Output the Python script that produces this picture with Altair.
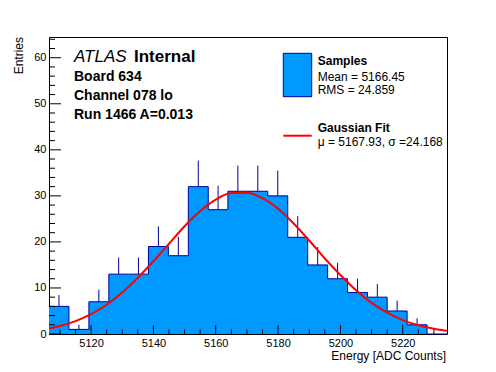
import altair as alt
import pandas as pd

# ---- data ----
bin_edges = [5106.5, 5112.9, 5119.3, 5125.7, 5132.0, 5138.4, 5144.8, 5151.2,
             5157.6, 5163.9, 5170.3, 5176.7, 5183.1, 5189.5, 5195.9, 5202.3,
             5208.7, 5215.0, 5221.4, 5227.8, 5234.2]
counts = [6, 1, 7, 13, 13, 19, 17, 32, 27, 31, 31, 30, 21, 15, 12, 9, 8, 5, 2, 0]

fit_x = [5106.5, 5110, 5115, 5120, 5125, 5130, 5135, 5140, 5145, 5150, 5155,
         5160, 5165, 5170, 5175, 5180, 5185, 5190, 5195, 5200, 5205, 5210,
         5215, 5220, 5225, 5230, 5234.2]
fit_y = [1.22, 1.74, 2.80, 4.31, 6.36, 9.00, 12.2, 15.8, 19.6, 23.4, 26.7,
         29.2, 30.6, 30.7, 29.5, 27.2, 24.0, 20.3, 16.4, 12.8, 9.50, 6.77,
         4.62, 3.02, 1.89, 1.14, 0.72]

x_major = [5120, 5140, 5160, 5180, 5200, 5220]
x_minor = [5110, 5115, 5125, 5130, 5135, 5145, 5150, 5155, 5165, 5170, 5175,
           5185, 5190, 5195, 5205, 5210, 5215, 5225, 5230]
y_major = [0, 10, 20, 30, 40, 50, 60]
y_minor = [2, 4, 6, 8, 12, 14, 16, 18, 22, 24, 26, 28, 32, 34, 36, 38, 42, 44,
           46, 48, 52, 54, 56, 58, 62, 64]

x_domain = [5106.5, 5234.2]
y_domain = [0, 64.5]

title_atlas = "ATLAS"
title_internal = "Internal"
info_lines = ["Board 634", "Channel 078 lo", "Run 1466 A=0.013"]
leg_samples = ["Samples", "Mean = 5166.45", "RMS = 24.859"]
leg_fit = ["Gaussian Fit", "\u03bc = 5167.93, \u03c3 =24.168"]
x_title = "Energy [ADC Counts]"
y_title = "Entries"

# ---- styling ----
W, H = 398, 297
FONT = "Liberation Sans"
FILL = "#0099ff"
NAVY = "#000099"

xscale = alt.Scale(domain=x_domain, nice=False, zero=False)
yscale = alt.Scale(domain=y_domain, nice=False, zero=False)
xaxis = alt.Axis(values=x_major, ticks=False, domain=False, grid=False,
                 labelFont=FONT, labelFontSize=11, labelColor="black",
                 labelPadding=3, title=None, format="d")
yaxis = alt.Axis(values=y_major, ticks=False, domain=False, grid=False,
                 labelFont=FONT, labelFontSize=11, labelColor="black",
                 labelPadding=3, title=None, format="d")

hist = pd.DataFrame({"start": bin_edges[:-1], "end": bin_edges[1:], "count": counts})
hist["center"] = (hist["start"] + hist["end"]) / 2
outline = pd.DataFrame({"x": bin_edges, "y": counts + [counts[-1]]})
fit = pd.DataFrame({"x": fit_x, "y": fit_y})

fill_area = alt.Chart(outline).mark_area(interpolate="step-after", color=FILL, opacity=1).encode(
    x=alt.X("x:Q", scale=xscale, axis=xaxis),
    y=alt.Y("y:Q", scale=yscale, axis=yaxis),
    y2=alt.datum(0),
)

step = alt.Chart(outline).mark_line(interpolate="step-after", color=NAVY, strokeWidth=1).encode(
    x=alt.X("x:Q", scale=xscale, axis=xaxis),
    y=alt.Y("y:Q", scale=yscale, axis=yaxis),
)

errs = alt.Chart(hist).transform_filter("datum.count > 0").transform_calculate(
    top="datum.count + sqrt(datum.count)"
).mark_rule(color=NAVY, strokeWidth=1).encode(
    x=alt.X("center:Q", scale=xscale, axis=xaxis),
    y=alt.Y("count:Q", scale=yscale, axis=yaxis),
    y2="top:Q",
)

curve = alt.Chart(fit).mark_line(color="#ff0000", strokeWidth=2, interpolate="monotone").encode(
    x=alt.X("x:Q", scale=xscale, axis=xaxis),
    y=alt.Y("y:Q", scale=yscale, axis=yaxis),
)

def xticks(vals, length):
    return alt.Chart(pd.DataFrame({"v": vals})).mark_rule(color="black", strokeWidth=1).encode(
        x=alt.X("v:Q", scale=xscale, axis=xaxis),
        y=alt.value(H), y2=alt.value(H - length),
    )

def yticks(vals, length):
    return alt.Chart(pd.DataFrame({"v": vals})).mark_rule(color="black", strokeWidth=1).encode(
        y=alt.Y("v:Q", scale=yscale, axis=yaxis),
        x=alt.value(0), x2=alt.value(length),
    )

one = pd.DataFrame({"a": [0]})

def txt(s, x, y, size, weight="normal", style="normal", align="left",
        baseline="alphabetic", angle=0):
    return alt.Chart(one).mark_text(
        text=s, font=FONT, fontSize=size, fontWeight=weight, fontStyle=style,
        align=align, baseline=baseline, angle=angle, color="black",
    ).encode(x=alt.value(x), y=alt.value(y))

texts = [
    txt(title_atlas, 25, 25.3, 17, style="italic"),
    txt(title_internal, 85, 25.3, 17, weight="bold"),
    txt(info_lines[0], 25, 44, 14, weight="bold"),
    txt(info_lines[1], 25, 63, 14, weight="bold"),
    txt(info_lines[2], 25, 82, 14, weight="bold"),
    txt(leg_samples[0], 268.7, 28, 12, weight="bold"),
    txt(leg_samples[1], 268.7, 43.8, 12),
    txt(leg_samples[2], 268.7, 56.8, 12),
    txt(leg_fit[0], 268.7, 95.3, 12, weight="bold"),
    txt(leg_fit[1], 268.7, 108.5, 12),
    txt(x_title, 397, 322.5, 12, align="right"),
    txt(y_title, -30, 0, 12, align="right", baseline="middle", angle=270),
]

leg_box = alt.Chart(one).mark_rect(fill=FILL, stroke=NAVY, strokeWidth=1).encode(
    x=alt.value(234.3), x2=alt.value(262.7), y=alt.value(16.3), y2=alt.value(59.7)
)
leg_line = alt.Chart(one).mark_rule(color="#ff0000", strokeWidth=2).encode(
    x=alt.value(234.3), x2=alt.value(262.7), y=alt.value(98.7)
)

chart = alt.layer(
    fill_area, step, errs, curve,
    xticks(x_major, 9), xticks(x_minor, 4.5),
    yticks(y_major, 12), yticks(y_minor, 6),
    leg_box, leg_line, *texts,
).properties(
    width=W, height=H,
    autosize=alt.AutoSizeParams(type="none"),
    padding={"left": 41, "top": 29, "right": 41, "bottom": 30},
    background="white",
).configure_view(stroke="black", strokeWidth=1)

chart.save("out.html", embed_options={"renderer": "svg", "actions": False})
